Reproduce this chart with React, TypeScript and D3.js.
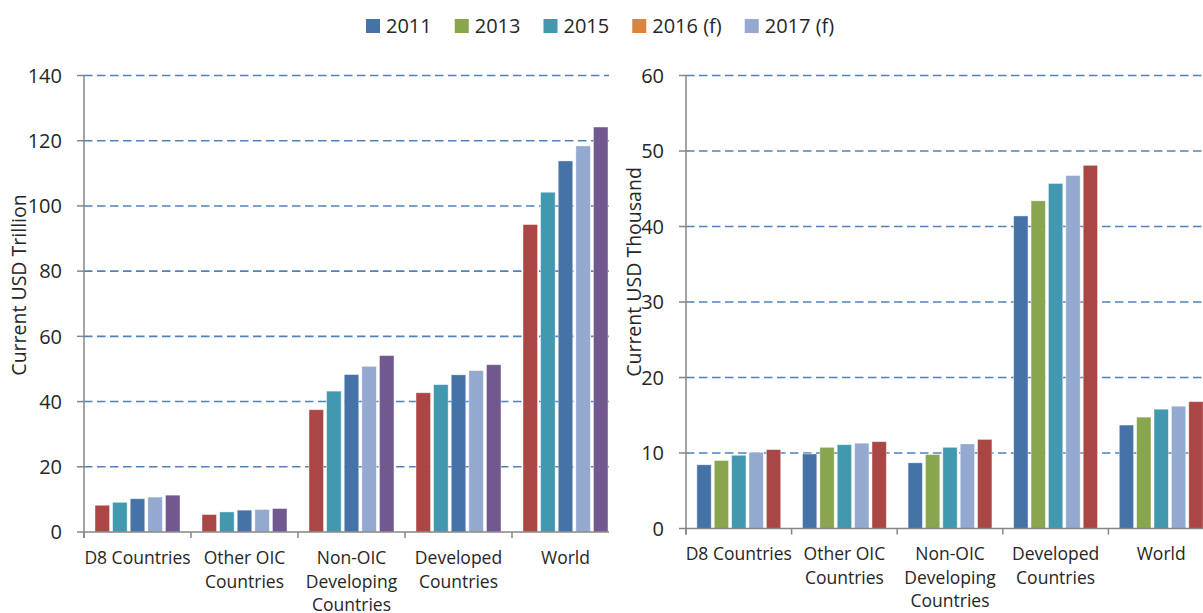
import React, { useEffect, useRef } from "react";
import * as d3 from "d3";

const categories = ["D8 Countries", "Other OIC Countries", "Non-OIC Developing Countries", "Developed Countries", "World"];
const categoryLines = [["D8 Countries"], ["Other OIC", "Countries"], ["Non-OIC", "Developing", "Countries"], ["Developed", "Countries"], ["World"]];

const legendLabels = ["2011", "2013", "2015", "2016 (f)", "2017 (f)"];
const legendColors = ["#4572A7", "#89A54E", "#4198AF", "#DB843D", "#93A9CF"];

// Left panel (Current USD Trillion)
const leftSeriesColors = ["#AA4643", "#4198AF", "#4572A7", "#93A9CF", "#71588F"];
const leftS1 = [8.2, 5.35, 37.5, 42.7, 94.3];
const leftS2 = [9.1, 6.15, 43.2, 45.2, 104.2];
const leftS3 = [10.2, 6.7, 48.3, 48.2, 113.8];
const leftS4 = [10.7, 6.9, 50.8, 49.5, 118.4];
const leftS5 = [11.3, 7.2, 54.1, 51.3, 124.2];
const leftTicks = [0, 20, 40, 60, 80, 100, 120, 140];

// Right panel (Current USD Thousand)
const rightSeriesColors = ["#4572A7", "#89A54E", "#4198AF", "#93A9CF", "#AA4643"];
const rightS1 = [8.44, 9.87, 8.7, 41.4, 13.7];
const rightS2 = [9.0, 10.75, 9.8, 43.4, 14.75];
const rightS3 = [9.7, 11.1, 10.75, 45.7, 15.8];
const rightS4 = [10.1, 11.3, 11.2, 46.75, 16.2];
const rightS5 = [10.45, 11.5, 11.8, 48.1, 16.8];
const rightTicks = [0, 10, 20, 30, 40, 50, 60];

const FONT = "'Open Sans', sans-serif";

type Panel = {
  id: string;
  series: number[][];
  colors: string[];
  ticks: number[];
  yMax: number;
  x0: number;
  catW: number;
  clipRight: number;
  yTop: number;
  yBottom: number;
  title: string;
  titleX: number;
  titleY: number;
  labelBase: number;
};

export default function App() {
  const ref = useRef<SVGSVGElement>(null);

  useEffect(() => {
    const svg = d3.select(ref.current);
    svg.selectAll("*").remove();

    // Legend
    const lg = svg.append("g");
    let lx = 366;
    legendLabels.forEach((lab, i) => {
      lg.append("rect").attr("x", lx).attr("y", 19).attr("width", 14).attr("height", 14).attr("fill", legendColors[i]);
      const t = lg.append("text").attr("x", lx + 20).attr("y", 32.5).attr("font-family", FONT).attr("font-size", 20).attr("fill", "#262626").text(lab);
      const w = (t.node() as SVGTextElement).getComputedTextLength();
      lx = lx + 20 + w + 23;
    });

    const panels: Panel[] = [
      {
        id: "L", series: [leftS1, leftS2, leftS3, leftS4, leftS5], colors: leftSeriesColors, ticks: leftTicks, yMax: 140,
        x0: 84, catW: 107, clipRight: 609, yTop: 75.5, yBottom: 532, title: "Current USD Trillion", titleX: 26, titleY: 285, labelBase: 564,
      },
      {
        id: "R", series: [rightS1, rightS2, rightS3, rightS4, rightS5], colors: rightSeriesColors, ticks: rightTicks, yMax: 60,
        x0: 686, catW: 105.6, clipRight: 1203, yTop: 75.5, yBottom: 528.5, title: "Current USD Thousand", titleX: 640.5, titleY: 272, labelBase: 560,
      },
    ];

    panels.forEach((p) => {
      const g = svg.append("g");
      const clipId = "clip" + p.id;
      svg.append("defs").append("clipPath").attr("id", clipId)
        .append("rect").attr("x", p.x0 - 20).attr("y", 0).attr("width", p.clipRight - p.x0 + 20).attr("height", 613);

      const y = d3.scaleLinear().domain([0, p.yMax]).range([p.yBottom, p.yTop]);
      const x0 = d3.scaleBand<string>().domain(categories).range([p.x0, p.x0 + p.catW * categories.length]).padding(0);
      const seriesIdx = p.series.map((_, i) => String(i));
      const x1 = d3.scaleBand<string>().domain(seriesIdx).range([p.catW * 0.103, p.catW * 0.897]).paddingInner(0.176).paddingOuter(0);

      const inner = g.append("g").attr("clip-path", `url(#${clipId})`);

      // gridlines
      inner.selectAll("line.grid").data(p.ticks.filter((t) => t > 0)).enter().append("line")
        .attr("x1", p.x0).attr("x2", p.clipRight).attr("y1", (d) => y(d)).attr("y2", (d) => y(d))
        .attr("stroke", "#4F81BD").attr("stroke-width", 1.6).attr("stroke-dasharray", "8.5,4.5");

      // bars
      p.series.forEach((vals, si) => {
        inner.selectAll(null).data(vals).enter().append("rect")
          .attr("x", (_, ci) => (x0(categories[ci]) as number) + (x1(String(si)) as number))
          .attr("y", (d) => y(d))
          .attr("width", x1.bandwidth())
          .attr("height", (d) => y(0) - y(d))
          .attr("fill", p.colors[si])
          .attr("stroke", "#ffffff").attr("stroke-opacity", 0.5).attr("stroke-width", 0.8);
      });

      // x axis line and ticks
      inner.append("line").attr("x1", p.x0).attr("x2", p.clipRight).attr("y1", y(0)).attr("y2", y(0))
        .attr("stroke", "#868686").attr("stroke-width", 1.5);
      const tickXs = d3.range(categories.length + 1).map((i) => p.x0 + i * p.catW);
      inner.selectAll(null).data(tickXs).enter().append("line")
        .attr("x1", (d) => d).attr("x2", (d) => d).attr("y1", y(0)).attr("y2", y(0) + 6)
        .attr("stroke", "#868686").attr("stroke-width", 1.5);

      // y axis line and ticks
      g.append("line").attr("x1", p.x0).attr("x2", p.x0).attr("y1", p.yTop).attr("y2", y(0) + 6)
        .attr("stroke", "#868686").attr("stroke-width", 1.5);
      g.selectAll(null).data(p.ticks).enter().append("line")
        .attr("x1", p.x0 - 7).attr("x2", p.x0).attr("y1", (d) => y(d)).attr("y2", (d) => y(d))
        .attr("stroke", "#868686").attr("stroke-width", 1.5);
      g.selectAll(null).data(p.ticks).enter().append("text")
        .attr("x", p.x0 - 22).attr("y", (d) => y(d)).attr("dy", "0.36em")
        .attr("text-anchor", "end").attr("font-family", FONT).attr("font-size", 20).attr("fill", "#262626")
        .text((d) => String(d));

      // category labels
      categoryLines.forEach((lines, ci) => {
        const cx = (x0(categories[ci]) as number) + p.catW / 2;
        lines.forEach((ln, li) => {
          g.append("text").attr("x", cx).attr("y", p.labelBase + li * 23.7)
            .attr("text-anchor", "middle").attr("font-family", FONT).attr("font-size", 17.5).attr("fill", "#262626")
            .text(ln);
        });
      });

      // y title
      g.append("text").attr("transform", `translate(${p.titleX},${p.titleY}) rotate(-90)`)
        .attr("text-anchor", "middle").attr("font-family", FONT).attr("font-size", 19.5).attr("fill", "#262626")
        .text(p.title);
    });
  }, []);

  return (
    <svg ref={ref} width={1203} height={613} style={{ position: "absolute", left: 0, top: 0, background: "#fff" }} />
  );
}
